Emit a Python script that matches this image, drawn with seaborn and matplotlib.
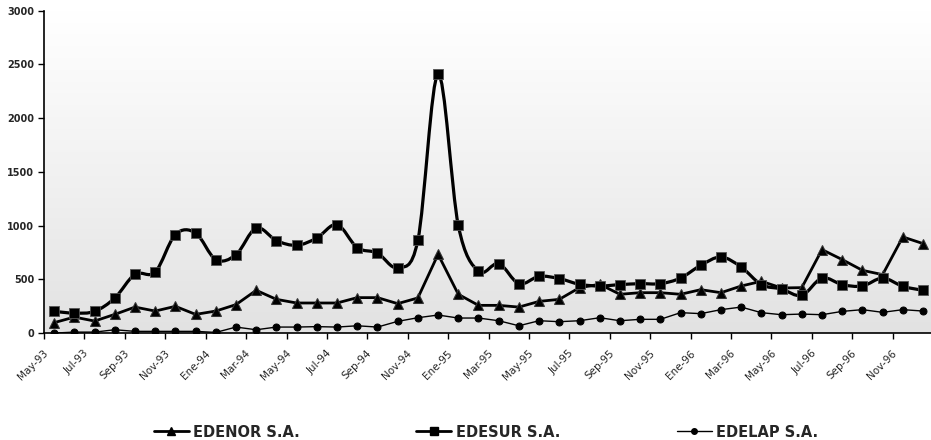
import numpy as np
import pandas as pd
import matplotlib
matplotlib.use('Agg')
import matplotlib.pyplot as plt
import matplotlib.transforms as mtransforms
import seaborn as sns
from matplotlib.path import Path
from matplotlib.patches import PathPatch
from matplotlib.lines import Line2D
from matplotlib.colors import LinearSegmentedColormap

months = ['May-93', 'Jun-93', 'Jul-93', 'Ago-93', 'Sep-93', 'Oct-93', 'Nov-93', 'Dic-93',
          'Ene-94', 'Feb-94', 'Mar-94', 'Abr-94', 'May-94', 'Jun-94', 'Jul-94', 'Ago-94',
          'Sep-94', 'Oct-94', 'Nov-94', 'Dic-94', 'Ene-95', 'Feb-95', 'Mar-95', 'Abr-95',
          'May-95', 'Jun-95', 'Jul-95', 'Ago-95', 'Sep-95', 'Oct-95', 'Nov-95', 'Dic-95',
          'Ene-96', 'Feb-96', 'Mar-96', 'Abr-96', 'May-96', 'Jun-96', 'Jul-96', 'Ago-96',
          'Sep-96', 'Oct-96', 'Nov-96', 'Dic-96']

edenor = [97, 149, 112, 174, 242, 205, 249, 174, 205, 265, 398, 314, 280, 280,
          280, 330, 330, 274, 327, 733, 361, 258, 258, 242, 295, 314, 423, 454,
          361, 376, 376, 361, 404, 376, 438, 482, 420, 423, 777, 684, 584, 544,
          895, 833]
edesur = [202, 186, 202, 326, 547, 568, 917, 932, 684, 730, 978, 861, 817, 885,
          1010, 795, 745, 609, 864, 2410, 1003, 575, 647, 460, 528, 507, 454, 438,
          451, 460, 460, 512, 631, 708, 615, 451, 410, 351, 512, 451, 438, 512,
          435, 398]
edelap = [0, 9, 9, 31, 16, 16, 16, 16, 6, 56, 31, 56, 56, 60,
          56, 68, 56, 109, 143, 168, 140, 140, 115, 68, 115, 106, 115, 143,
          115, 128, 128, 190, 181, 218, 242, 190, 171, 177, 171, 202, 218, 193,
          218, 205]

series_names = ['EDENOR S.A.', 'EDESUR S.A.', 'EDELAP S.A.']

df = pd.DataFrame({'idx': np.arange(len(months)), 'mes': months,
                   'EDENOR S.A.': edenor, 'EDESUR S.A.': edesur, 'EDELAP S.A.': edelap})


def smooth_path(x, y):
    # Excel-style smoothed line (Catmull-Rom as cubic Bezier)
    pts = np.column_stack([x, y]).astype(float)
    n = len(pts)
    verts = [pts[0]]
    codes = [Path.MOVETO]
    for i in range(n - 1):
        p0 = pts[i - 1] if i > 0 else pts[i]
        p1 = pts[i]
        p2 = pts[i + 1]
        p3 = pts[i + 2] if i + 2 < n else pts[i + 1]
        verts += [p1 + (p2 - p0) / 6, p2 - (p3 - p1) / 6, p2]
        codes += [Path.CURVE4] * 3
    return Path(verts, codes)


sns.set_style('white')
plt.rcParams['font.family'] = ['DejaVu Sans']

fig = plt.figure(figsize=(9.31, 4.40), dpi=100)
ax = fig.add_axes([0.0473, 0.243, 0.955, 0.7325])

# gradient background (white at top, light grey at the bottom)
cmap = LinearSegmentedColormap.from_list('bg', [(0, '#e2e2e2'), (0.45, '#f0f0f0'), (1, '#ffffff')])
ax.imshow(np.linspace(0, 1, 256).reshape(-1, 1), cmap=cmap, origin='lower',
          extent=[0, 1, 0, 1], transform=ax.transAxes, aspect='auto', zorder=0)

sns.lineplot(data=df, x='idx', y='EDENOR S.A.', ax=ax, color='black', lw=2.0,
             marker='^', markersize=7, markeredgecolor='#333333', zorder=3)
sns.lineplot(data=df, x='idx', y='EDELAP S.A.', ax=ax, color='black', lw=1.0,
             marker='o', markersize=5, markeredgecolor='black', zorder=3)
ax.add_patch(PathPatch(smooth_path(df['idx'], df['EDESUR S.A.']), fill=False,
                       edgecolor='black', lw=2.3, zorder=4))
sns.scatterplot(data=df, x='idx', y='EDESUR S.A.', ax=ax, color='black', marker='s',
                s=55, edgecolor='#555555', linewidth=0.6, zorder=5)

ax.set_xlim(-0.5, len(months) - 0.5)
ax.set_ylim(0, 3000)
ax.set_yticks(range(0, 3001, 500))
ax.set_yticklabels([str(v) for v in range(0, 3001, 500)], fontweight='bold', fontsize=7)
ax.set_xticks(np.arange(0, len(months), 2))
ax.set_xticklabels(months[::2], rotation=45, ha='right', rotation_mode='anchor', fontsize=7.5)
ax.set_xticks(np.arange(0, len(months), 2) - 0.5, minor=True)
ax.tick_params(axis='x', which='major', length=0, pad=11)
ax.tick_params(axis='x', which='minor', length=4, direction='out', width=1, color='black', bottom=True)
ax.tick_params(axis='y', length=4, direction='out', width=1, color='black', left=True, pad=3)
shift = mtransforms.ScaledTranslation(-11 / 100, 0, fig.dpi_scale_trans)
for lab in ax.get_xticklabels():
    lab.set_transform(lab.get_transform() + shift)
ax.set_xlabel('')
ax.set_ylabel('')
for side in ['top', 'right']:
    ax.spines[side].set_visible(False)
for side in ['left', 'bottom']:
    ax.spines[side].set_color('black')
    ax.spines[side].set_linewidth(1.2)

handles = [Line2D([], [], color='black', lw=2, marker='^', markersize=6),
           Line2D([], [], color='black', lw=2, marker='s', markersize=6),
           Line2D([], [], color='black', lw=1, marker='o', markersize=4)]
fig.legend(handles, series_names, loc='center', bbox_to_anchor=(0.522, 1 - 432 / 440),
           ncol=3, frameon=False, handlelength=2.4, handletextpad=0.3, columnspacing=8.0,
           prop={'weight': 'bold', 'size': 10.5})

fig.savefig('out.png', dpi=100)
